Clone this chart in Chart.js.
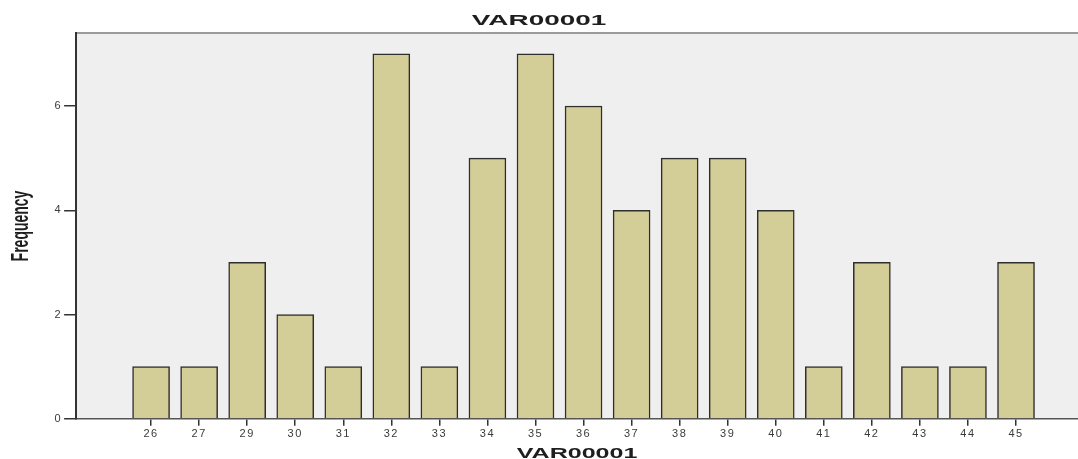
<!DOCTYPE html>
<html>
<head>
<meta charset="utf-8">
<script src="https://cdn.jsdelivr.net/npm/chart.js@4.4.0/dist/chart.umd.min.js"></script>
<style>
  html, body { margin: 0; padding: 0; background: #fff; }
  #wrap { width: 1078px; height: 459px; }
</style>
</head>
<body>
<div id="wrap"><canvas id="histChart" width="1078" height="459"></canvas></div>
<script>
// Dữ liệu của biểu đồ
var categories = ["26", "27", "29", "30", "31", "32", "33", "34", "35", "36", "37", "38", "39", "40", "41", "42", "43", "44", "45"];
var frequency = [1, 1, 3, 2, 1, 7, 1, 5, 7, 6, 4, 5, 5, 4, 1, 3, 1, 1, 3];
var yTicks = [0, 2, 4, 6];

var chartTitle = "VAR00001";
var xTitle = "VAR00001";
var yTitle = "Frequency";

var points = categories.map(function (c, i) {
  return { x: i, y: frequency[i] };
});

// Vẽ chữ bị kéo giãn theo chiều ngang (giống ảnh gốc)
function drawStretched(c, text, x, y, sx, font, rotate) {
  c.save();
  c.translate(x, y);
  c.scale(sx, 1);
  if (rotate) c.rotate(-Math.PI / 2);
  c.font = font;
  c.fillStyle = "#1e1e1e";
  c.textAlign = "center";
  c.textBaseline = "middle";
  c.letterSpacing = "0px";
  c.fillText(text, 0, 0);
  c.restore();
}

// Nền xám cho vùng vẽ + đường viền trên + tiêu đề
var plotBg = {
  id: "plotBg",
  beforeDraw: function (chart) {
    var a = chart.chartArea;
    var c = chart.ctx;
    c.save();
    c.fillStyle = "#efefef";
    c.fillRect(a.left, a.top, a.right - a.left, a.bottom - a.top);
    c.strokeStyle = "#9a9a9a";
    c.lineWidth = 2;
    c.beginPath();
    c.moveTo(a.left, a.top);
    c.lineTo(a.right, a.top);
    c.stroke();
    c.restore();
    c.letterSpacing = "1.5px"; // chữ số trục rộng hơn
  },
  afterDraw: function (chart) {
    var a = chart.chartArea;
    var c = chart.ctx;
    c.letterSpacing = "0px";
    drawStretched(c, chartTitle, chart.width / 2, 20.5, 1.86, "bold 15px 'Liberation Sans'", false);
    drawStretched(c, xTitle, (a.left + a.right) / 2, 454, 1.67, "bold 15px 'Liberation Sans'", false);
    drawStretched(c, yTitle, 21, 226, 1.74, "bold 14px 'Liberation Sans'", true);
  },
};

var ctx = document.getElementById("histChart").getContext("2d");
var histChart = new Chart(ctx, {
  type: "bar",
  data: {
    datasets: [
      {
        data: points,
        backgroundColor: "#d3ce97",
        borderColor: "#2e2e2e",
        borderWidth: 1.5,
        barThickness: 37,
      },
    ],
  },
  plugins: [plotBg],
  options: {
    responsive: false,
    animation: false,
    layout: { padding: { top: 33, right: 0, bottom: 16, left: 54 } },
    plugins: {
      legend: { display: false },
      tooltip: { enabled: false },
    },
    scales: {
      x: {
        type: "linear",
        min: -1.56,
        max: 19.29,
        offset: false,
        afterBuildTicks: function (scale) {
          scale.ticks = categories.map(function (c, i) {
            return { value: i };
          });
        },
        ticks: {
          autoSkip: false,
          maxRotation: 0,
          color: "#3a3a3a",
          font: { family: "Liberation Sans", size: 11 },
          padding: 2,
          callback: function (v) {
            return categories[v];
          },
        },
        grid: {
          offset: false,
          drawOnChartArea: false,
          drawTicks: true,
          tickLength: 7,
          tickColor: "#333",
          lineWidth: 1.5,
        },
        border: { color: "#555", width: 1.5 },
      },
      y: {
        min: 0,
        max: 7.4,
        afterBuildTicks: function (scale) {
          scale.ticks = yTicks.map(function (v) {
            return { value: v };
          });
        },
        ticks: {
          color: "#3a3a3a",
          font: { family: "Liberation Sans", size: 11 },
          padding: 2,
        },
        grid: {
          drawOnChartArea: false,
          drawTicks: true,
          tickLength: 12,
          tickColor: "#333",
          lineWidth: 1.5,
        },
        border: { color: "#333", width: 2 },
      },
    },
  },
});
</script>
</body>
</html>
